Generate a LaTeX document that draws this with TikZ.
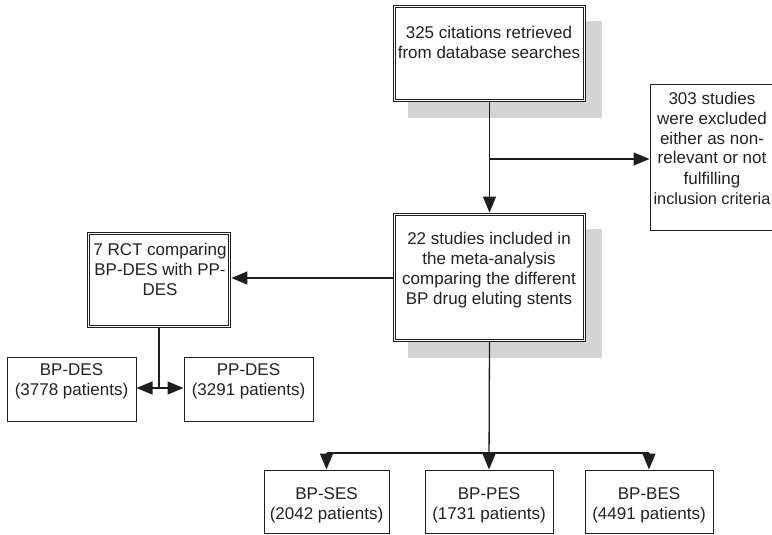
\documentclass[tikz,border=0pt]{standalone}
\usepackage{fontspec}
\setmainfont{Liberation Sans}
\usetikzlibrary{arrows.meta,calc}
\definecolor{linec}{HTML}{1E1E1E}
\definecolor{textc}{HTML}{222222}
\definecolor{shadowc}{HTML}{D4D4D4}
\tikzset{
  dbox/.style={rectangle, draw=linec, fill=white, double=white, double distance=1.6pt, line width=0.75pt, inner sep=0pt},
  sbox/.style={rectangle, draw=linec, fill=white, line width=1pt, inner sep=0pt},
  txt/.style={font=\fontsize{17}{20}\selectfont, text=textc, align=center, inner sep=0pt, anchor=base},
  conn/.style={draw=linec, line width=1.3pt},
  arr/.style={conn, -{Triangle[length=16pt,width=13pt]}},
}
\begin{document}
\begin{tikzpicture}[x=1pt,y=-1pt]
\useasboundingbox (0,0) rectangle (772,535);
\clip (0,0) rectangle (772,535);
% shadows
\fill[shadowc] (408,21) rectangle (602,118);
\fill[shadowc] (408,229) rectangle (602,358);
% boxes
\node[dbox, minimum width=190pt, minimum height=94pt] (top) at (489.5,53.5) {};
\node[dbox, minimum width=190pt, minimum height=126pt] (main) at (489.5,277.5) {};
\node[dbox, minimum width=141pt, minimum height=93pt] (rct) at (159,280) {};
\node[sbox, minimum width=128pt, minimum height=145pt] (ex) at (714,157.5) {};
\node[sbox, minimum width=129pt, minimum height=64pt] (bpdes) at (71.5,389) {};
\node[sbox, minimum width=129pt, minimum height=64pt] (ppdes) at (248.5,389) {};
\node[sbox, minimum width=125pt, minimum height=63pt] (bpses) at (326.5,501.5) {};
\node[sbox, minimum width=128pt, minimum height=63pt] (bppes) at (489,501.5) {};
\node[sbox, minimum width=128pt, minimum height=63pt] (bpbes) at (649,501.5) {};
% texts (anchor base = baseline of last line)
\node[txt] (ttop) at (489,59) {325 citations retrieved\\from database searches};
\node[txt] (tmain) at (489,304) {22 studies included in\\the meta-analysis\\comparing the different\\BP drug eluting stents};
\node[txt] (tex) at (712,204) {303 studies\\were excluded\\either as non-\\relevant or not\\fulfilling\\{\fontsize{16.3}{20}\selectfont inclusion criteria}};
\node[txt] (trct) at (160,295) {7 RCT comparing\\BP-DES with PP-\\DES};
\node[txt] (tbpdes) at (71.5,395) {BP-DES\\(3778 patients)};
\node[txt] (tppdes) at (248.5,395) {PP-DES\\(3291 patients)};
\node[txt] (tbpses) at (326.5,519) {BP-SES\\(2042 patients)};
\node[txt] (tbppes) at (489,519) {BP-PES\\(1731 patients)};
\node[txt] (tbpbes) at (649,519) {BP-BES\\(4491 patients)};
% connectors
\draw[arr, shorten >=1.5pt] (top.south) -- (main.north);
\draw[arr] (top.south |- 0,159) -- (ex.west |- 0,159);
\draw[arr, shorten >=1.5pt] (main.west |- 0,278) -- (rct.east |- 0,278);
\coordinate (j2) at (rct.south |- 0,388);
\draw[conn] (rct.south) -- (j2);
\draw[arr] (j2) -- (bpdes.east |- j2);
\draw[arr] (j2) -- (ppdes.west |- j2);
\draw[arr] (main.south) -- (bppes.north);
\coordinate (b1) at (bpses.north |- 0,453);
\coordinate (b3) at (bpbes.north |- 0,453);
\draw[conn] (b1) -- (b3);
\draw[arr] (b1) -- (bpses.north);
\draw[arr] (b3) -- (bpbes.north);
\end{tikzpicture}
\end{document}
